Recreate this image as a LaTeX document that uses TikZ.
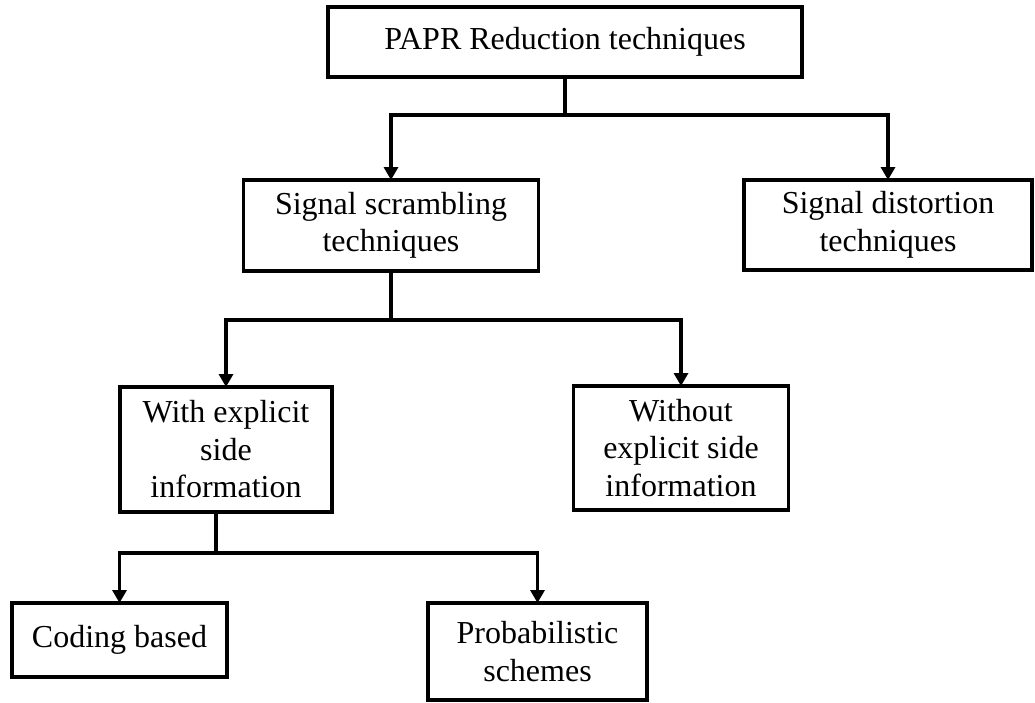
\documentclass[tikz,border=0pt]{standalone}
\usepackage{fontspec}
\setmainfont{Liberation Serif}
\usetikzlibrary{arrows.meta}
\begin{document}
\begin{tikzpicture}[x=1pt,y=-1pt,
  box/.style={draw, line width=3.5pt, inner sep=0pt, outer sep=0pt, align=center,
    font=\fontsize{32}{37.5}\selectfont},
  link/.style={line width=3.5pt},
  arr/.style={link, -{Triangle[length=13pt,width=14pt]}}]
\useasboundingbox (0,0) rectangle (1035,702);
% boxes
\node[box, minimum width=474pt, minimum height=70pt] (top) at (565,42) {PAPR Reduction techniques};
\node[box, minimum width=295pt, minimum height=91pt] (scr) at (391,225.5) {Signal scrambling\\techniques};
\node[box, minimum width=288pt, minimum height=90pt] (dist) at (888,225) {Signal distortion\\techniques};
\node[box, minimum width=212pt, minimum height=125pt] (with) at (226,449.5) {With explicit\\side\\information};
\node[box, minimum width=215pt, minimum height=124pt] (without) at (681,448) {Without\\explicit side\\information};
\node[box, minimum width=215pt, minimum height=74pt] (coding) at (119.5,640) {Coding based};
\node[box, minimum width=219pt, minimum height=97pt] (prob) at (537.5,651.5) {Probabilistic\\schemes};
% junctions
\coordinate (j1) at (565,115);
\coordinate (j2) at (391,320);
\coordinate (j3) at (216,553);
% connectors
\draw[link] (top.south) -- (j1);
\draw[arr] (j1) -| (scr.north);
\draw[arr] (j1) -| (dist.north);
\draw[link] (scr.south) -- (j2);
\draw[arr] (j2) -| (with.north);
\draw[arr] (j2) -| (without.north);
\draw[link] (with.south -| j3) -- (j3);
\draw[arr] (j3) -| (coding.north);
\draw[arr] (j3) -| (prob.north);
\end{tikzpicture}
\end{document}
